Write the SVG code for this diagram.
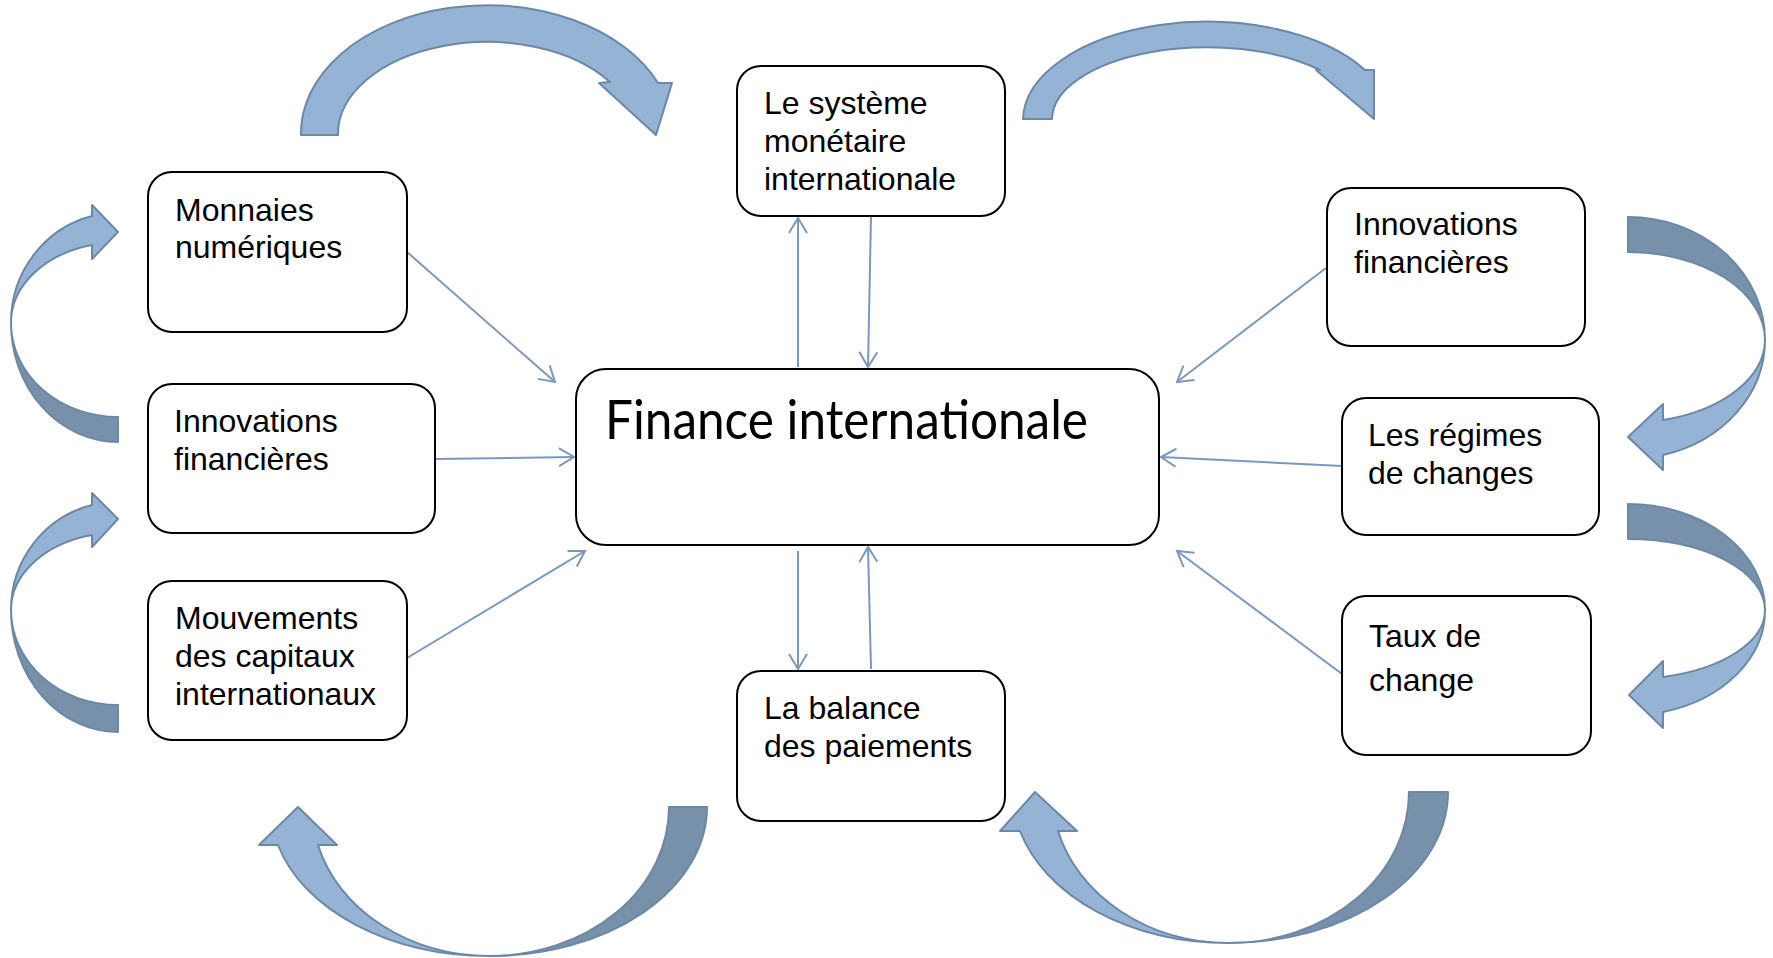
<svg xmlns="http://www.w3.org/2000/svg" width="1773" height="958" viewBox="0 0 1773 958">
  <defs>
    <style>
      .box { fill: #ffffff; stroke: #000000; stroke-width: 2; }
      .lbl { font-family: "Liberation Sans", Arial, sans-serif; font-size: 32px; fill: #000000; }
      .title { font-family: Lato, "Noto Sans", sans-serif; font-size: 54px; fill: #000000; }
      .link { fill: none; stroke: #7b98bb; stroke-width: 2; marker-end: url(#open); }
      .light { fill: #94b3d5; stroke: #6c88a6; stroke-width: 2; stroke-linejoin: round; }
      .dark { fill: #7791ab; stroke: #6c88a6; stroke-width: 2; stroke-linejoin: round; }
    </style>
    <marker id="open" markerUnits="userSpaceOnUse" markerWidth="22" markerHeight="22" refX="18" refY="11" orient="auto">
      <path d="M3,2 L18,11 L3,20" fill="none" stroke="#7b98bb" stroke-width="2"/>
    </marker>
  </defs>

  <rect width="1773" height="958" fill="#ffffff"/>

  <!-- curved block arrows around the diagram -->
  <g id="curved-arrows">
    <!-- top left -->
    <path class="light" d="M301,135 A186,128 0 0 1 658,83 L672,83 L656,135 L599,83 L610,82 A149,92 0 0 0 338,135 Z"/>
    <!-- top right -->
    <path class="light" d="M1023,119 A184,99 0 0 1 1365,70 L1374,70 L1374,119 L1316,70 L1320,70 A155,72 0 0 0 1052,119 Z"/>
    <!-- left upper -->
    <path class="dark" d="M118,442 A107,119 0 0 1 11,323 A107,94 0 0 0 118,417 Z"/>
    <path class="light" d="M11,323 A107,110 0 0 1 92,216 L92,205 L118,232 L92,259 L92,245 A107,80 0 0 0 11,323 Z"/>
    <!-- left lower -->
    <path class="dark" d="M118,732 A107,122 0 0 1 11,610 A107,95 0 0 0 118,705 Z"/>
    <path class="light" d="M11,610 A107,108 0 0 1 92,505 L92,493 L118,519 L92,547 L92,535 A107,77 0 0 0 11,610 Z"/>
    <!-- right upper -->
    <path class="dark" d="M1628,217 A137,123 0 0 1 1765,340 A137,88 0 0 0 1628,252 Z"/>
    <path class="light" d="M1765,340 A137,119 0 0 1 1663,455 L1663,470 L1628,437 L1663,404 L1663,420 A137,83 0 0 0 1765,340 Z"/>
    <!-- right lower -->
    <path class="dark" d="M1628,504 A137,106 0 0 1 1765,610 A137,71 0 0 0 1628,539 Z"/>
    <path class="light" d="M1765,610 A137,105 0 0 1 1663,712 L1663,728 L1629,695 L1663,661 L1663,677 A137,69 0 0 0 1765,610 Z"/>
    <!-- bottom left -->
    <path class="dark" d="M707,807 A217,149 0 0 1 490,956 A179,149 0 0 0 669,807 Z"/>
    <path class="light" d="M490,956 A219,149 0 0 1 278,845 L259,845 L298,807 L337,845 L318,845 A178,149 0 0 0 490,956 Z"/>
    <!-- bottom right -->
    <path class="dark" d="M1448,792 A219,151 0 0 1 1229,943 A180,151 0 0 0 1409,792 Z"/>
    <path class="light" d="M1229,943 A216,151 0 0 1 1020,831 L1000,831 L1035,792 L1077,831 L1058,831 A177,151 0 0 0 1229,943 Z"/>
  </g>

  <!-- connectors -->
  <g id="connectors">
    <line class="link" x1="407" y1="252" x2="555" y2="382"/>
    <line class="link" x1="435" y1="459" x2="574" y2="457"/>
    <line class="link" x1="407" y1="658" x2="585" y2="551"/>
    <line class="link" x1="798" y1="367" x2="798" y2="218"/>
    <line class="link" x1="871" y1="216" x2="868" y2="367"/>
    <line class="link" x1="798" y1="551" x2="798" y2="669"/>
    <line class="link" x1="871" y1="669" x2="868" y2="547"/>
    <line class="link" x1="1326" y1="268" x2="1177" y2="382"/>
    <line class="link" x1="1342" y1="466" x2="1161" y2="457"/>
    <line class="link" x1="1342" y1="674" x2="1177" y2="551"/>
  </g>

  <g id="finance">
    <rect class="box" x="576" y="369" width="583" height="176" rx="30"/>
    <text class="title" x="605" y="439" textLength="483" lengthAdjust="spacingAndGlyphs">Finance internationale</text>
  </g>

  <g id="systeme">
    <rect class="box" x="737" y="66" width="268" height="150" rx="24"/>
    <text class="lbl" x="764" y="114">Le système</text>
    <text class="lbl" x="764" y="152">monétaire</text>
    <text class="lbl" x="764" y="190">internationale</text>
  </g>

  <g id="balance">
    <rect class="box" x="737" y="671" width="268" height="150" rx="24"/>
    <text class="lbl" x="764" y="719">La balance</text>
    <text class="lbl" x="764" y="757">des paiements</text>
  </g>

  <g id="monnaies">
    <rect class="box" x="148" y="172" width="259" height="160" rx="24"/>
    <text class="lbl" x="175" y="221">Monnaies</text>
    <text class="lbl" x="175" y="258">numériques</text>
  </g>

  <g id="innovations-gauche">
    <rect class="box" x="148" y="384" width="287" height="149" rx="24"/>
    <text class="lbl" x="174" y="432">Innovations</text>
    <text class="lbl" x="174" y="470">financières</text>
  </g>

  <g id="mouvements">
    <rect class="box" x="148" y="581" width="259" height="159" rx="24"/>
    <text class="lbl" x="175" y="629">Mouvements</text>
    <text class="lbl" x="175" y="667">des capitaux</text>
    <text class="lbl" x="175" y="705">internationaux</text>
  </g>

  <g id="innovations-droite">
    <rect class="box" x="1327" y="188" width="258" height="158" rx="24"/>
    <text class="lbl" x="1354" y="235">Innovations</text>
    <text class="lbl" x="1354" y="273">financières</text>
  </g>

  <g id="regimes">
    <rect class="box" x="1342" y="398" width="257" height="137" rx="24"/>
    <text class="lbl" x="1368" y="446">Les régimes</text>
    <text class="lbl" x="1368" y="484">de changes</text>
  </g>

  <g id="taux">
    <rect class="box" x="1342" y="596" width="249" height="159" rx="24"/>
    <text class="lbl" x="1369" y="647">Taux de</text>
    <text class="lbl" x="1369" y="691">change</text>
  </g>
</svg>
